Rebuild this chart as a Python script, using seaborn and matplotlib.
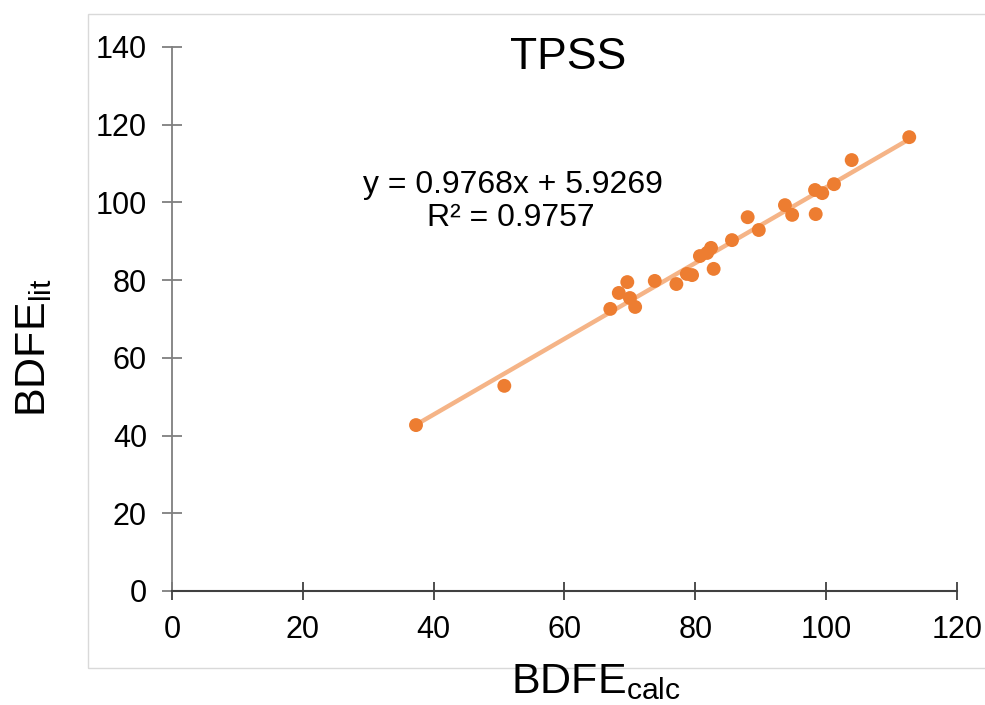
import matplotlib
matplotlib.use("Agg")
import matplotlib.pyplot as plt
import seaborn as sns
import pandas as pd
from matplotlib.patches import Rectangle

# Data
bdfe_calc = [37.3, 50.8, 67.0, 68.3, 69.6, 70.0, 70.8, 73.8, 77.1, 78.7, 79.5,
             80.7, 81.8, 82.4, 82.8, 85.6, 88.0, 89.7, 93.7, 94.8, 98.3, 98.4,
             99.4, 101.2, 103.9, 112.7]
bdfe_lit = [42.7, 52.8, 72.6, 76.7, 79.5, 75.4, 73.1, 79.8, 79.0, 81.6, 81.3,
            86.2, 87.0, 88.3, 82.9, 90.3, 96.2, 92.9, 99.3, 96.8, 103.2, 97.0,
            102.4, 104.7, 110.9, 116.8]
x_ticks = [0, 20, 40, 60, 80, 100, 120]
y_ticks = [0, 20, 40, 60, 80, 100, 120, 140]
title = "TPSS"
equation = "y = 0.9768x + 5.9269"
r2_text = "R² = 0.9757"

df = pd.DataFrame({"calc": bdfe_calc, "lit": bdfe_lit})

sns.set_style("white")
plt.rcParams["font.family"] = ["Liberation Sans", "DejaVu Sans"]
plt.rcParams["text.color"] = "black"
plt.rcParams["mathtext.fontset"] = "custom"
plt.rcParams["mathtext.rm"] = "Liberation Sans"
plt.rcParams["mathtext.it"] = "Liberation Sans"

fig = plt.figure(figsize=(9.85, 7.05), dpi=100)
fig.patch.set_facecolor("white")

# light grey chart-area frame
fig.patches.append(Rectangle((88 / 985, 1 - 668 / 705), 1.0, (668 - 14) / 705,
                             transform=fig.transFigure, fill=False,
                             edgecolor="#d9d9d9", linewidth=1.0, zorder=0))

ax = fig.add_axes([172 / 985, 1 - 591 / 705, (957 - 172) / 985, (591 - 47) / 705])
ax.set_facecolor("none")

sns.regplot(data=df, x="calc", y="lit", ax=ax, ci=None, truncate=True,
            scatter_kws=dict(color="#ED7D31", s=100, edgecolor="none", alpha=1, zorder=3),
            line_kws=dict(color="#F5B487", lw=3.2, zorder=2))

ax.set_xlim(0, 120)
ax.set_ylim(0, 140)
ax.set_xticks(x_ticks)
ax.set_yticks(y_ticks)
ax.set_xlabel("")
ax.set_ylabel("")

for s in ["top", "right"]:
    ax.spines[s].set_visible(False)
ax.spines["left"].set_color("#7f7f7f")
ax.spines["left"].set_linewidth(1.3)
ax.spines["bottom"].set_color("#404040")
ax.spines["bottom"].set_linewidth(1.5)
ax.spines["left"].set_zorder(1)

ax.tick_params(axis="y", direction="inout", length=14, width=1.3, color="#7f7f7f",
               labelsize=22, pad=11, labelcolor="black", left=True)
ax.tick_params(axis="x", direction="inout", length=13, width=1.3, color="#404040",
               labelsize=22, pad=11, labelcolor="black", bottom=True)

fig.text(568 / 985, 1 - 69 / 705, title, ha="center", va="baseline", fontsize=32)
fig.text(513 / 985, 1 - 193 / 705, equation, ha="center", va="baseline", fontsize=23)
fig.text(511 / 985, 1 - 226 / 705, r2_text, ha="center", va="baseline", fontsize=23)

fig.text(596 / 985, 1 - 693 / 705, r"BDFE$_{\mathregular{calc}}$", ha="center",
         va="baseline", fontsize=31)
fig.text(34.5 / 985, 1 - 347.5 / 705, r"BDFE$_{\mathregular{lit}}$", ha="center",
         va="center", rotation=90, fontsize=31)

fig.savefig("out.png", dpi=100, facecolor="white")
